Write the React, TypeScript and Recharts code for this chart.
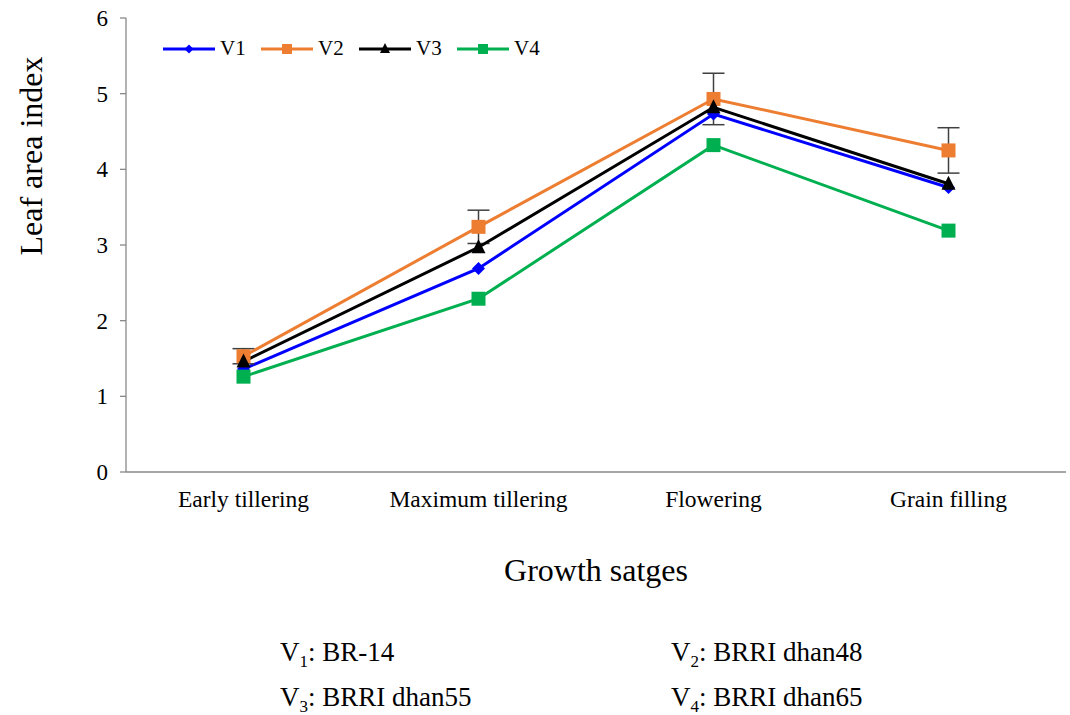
import React from "react";
import { LineChart, Line, XAxis, YAxis, ErrorBar } from "recharts";

const stages = ["Early tillering", "Maximum tillering", "Flowering", "Grain filling"];
const v1 = [1.36, 2.69, 4.73, 3.76];
const v2 = [1.53, 3.24, 4.93, 4.25];
const v3 = [1.46, 2.97, 4.82, 3.81];
const v4 = [1.26, 2.29, 4.32, 3.19];
const v2Err = [0.1, 0.22, 0.34, 0.3];
const yTicks = [0, 1, 2, 3, 4, 5, 6];
const stageEdges = [0, 1, 2, 3, 4];
const stageCentres = [0.5, 1.5, 2.5, 3.5];

const data = stages.map((s, i) => ({
  x: stageCentres[i],
  stage: s,
  v1: v1[i],
  v2: v2[i],
  v3: v3[i],
  v4: v4[i],
  v2Err: v2Err[i],
}));

const FONT = "Liberation Serif";
const AXIS = "#898989";

const series = [
  { key: "v1", name: "V1", color: "#0000FF", shape: "diamond" },
  { key: "v2", name: "V2", color: "#ED7D31", shape: "square" },
  { key: "v3", name: "V3", color: "#000000", shape: "triangle" },
  { key: "v4", name: "V4", color: "#00B050", shape: "square" },
];

// draws a marker centred on cx, cy
function marker(shape: string, cx: number, cy: number, size: number, color: string, key?: string) {
  const h = size / 2;
  if (shape === "diamond") {
    return (
      <polygon key={key} points={`${cx},${cy - h} ${cx + h},${cy} ${cx},${cy + h} ${cx - h},${cy}`} fill={color} />
    );
  }
  if (shape === "triangle") {
    return (
      <polygon key={key} points={`${cx},${cy - h - 1} ${cx + h},${cy + h - 1} ${cx - h},${cy + h - 1}`} fill={color} />
    );
  }
  return <rect key={key} x={cx - h} y={cy - h} width={size} height={size} fill={color} />;
}

const makeDot = (shape: string, color: string, size: number) => (props: any) => {
  const { cx, cy, index } = props;
  if (cx == null || cy == null) return <g key={`d${index}`} />;
  return marker(shape, cx, cy, size, color, `${shape}-${index}`);
};

function LegendBox() {
  return (
    <div style={{ position: "absolute", left: 162, top: 36, display: "flex", fontFamily: FONT, fontSize: 21 }}>
      {series.map((s) => (
        <div key={s.key} style={{ display: "flex", alignItems: "center", width: 98 }}>
          <svg width={54} height={24}>
            <line x1={1} y1={12} x2={53} y2={12} stroke={s.color} strokeWidth={3} />
            {marker(s.shape, 27, 12, s.shape === "diamond" ? 9 : 10, s.color)}
          </svg>
          <span style={{ marginLeft: 4 }}>{s.name}</span>
        </div>
      ))}
    </div>
  );
}

const note = { position: "absolute" as const, fontSize: 27, lineHeight: 1, fontFamily: FONT, whiteSpace: "nowrap" as const };
const sub = { fontSize: 17, position: "relative" as const, top: 6 };

export default function App() {
  return (
    <div
      style={{
        position: "absolute",
        left: 0,
        top: 0,
        width: 1070,
        height: 715,
        background: "#fff",
        fontFamily: FONT,
        color: "#000",
      }}
    >
      <LineChart
        width={1070}
        height={715}
        data={data}
        margin={{ top: 18, right: 4, left: 0, bottom: 183 }}
        style={{ fontFamily: FONT }}
      >
        <XAxis
          xAxisId="grid"
          dataKey="x"
          type="number"
          domain={[0, 4]}
          ticks={stageEdges}
          tick={false}
          tickSize={7}
          height={1}
          stroke={AXIS}
          strokeWidth={1.3}
        />
        <XAxis
          xAxisId="lab"
          dataKey="x"
          type="number"
          domain={[0, 4]}
          ticks={stageCentres}
          tickFormatter={(v: number) => stages[Math.floor(v)]}
          axisLine={false}
          tickLine={false}
          tickSize={0}
          tickMargin={17}
          height={59}
          tick={{ fill: "#000", fontSize: 23.5, fontFamily: FONT }}
          label={{
            value: "Growth satges",
            position: "bottom",
            offset: 26,
            style: { fill: "#000", fontSize: 32, fontFamily: FONT },
          }}
        />
        <YAxis
          type="number"
          domain={[0, 6]}
          ticks={yTicks}
          interval={0}
          width={126}
          tickSize={6}
          tickMargin={12}
          stroke={AXIS}
          strokeWidth={1.3}
          tick={{ fill: "#000", fontSize: 23, fontFamily: FONT }}
        />
        {series.map((s) => (
          <Line
            key={s.key}
            xAxisId="grid"
            dataKey={s.key}
            name={s.name}
            stroke={s.color}
            strokeWidth={3}
            isAnimationActive={false}
            dot={makeDot(s.shape, s.color, s.shape === "diamond" ? 13 : 14)}
            activeDot={false}
          >
            {s.key === "v2" && (
              <ErrorBar dataKey="v2Err" direction="y" width={11} stroke="#404040" strokeWidth={1.5} />
            )}
          </Line>
        ))}
      </LineChart>

      <LegendBox />

      <div
        style={{
          position: "absolute",
          left: 31,
          top: 156,
          transform: "translate(-50%, -50%) rotate(-90deg)",
          fontSize: 32,
          lineHeight: 1,
          fontFamily: FONT,
          whiteSpace: "nowrap",
        }}
      >
        Leaf area index
      </div>

      <div style={{ ...note, left: 280, top: 639 }}>
        V<span style={sub}>1</span>: BR-14
      </div>
      <div style={{ ...note, left: 671, top: 639 }}>
        V<span style={sub}>2</span>: BRRI dhan48
      </div>
      <div style={{ ...note, left: 280, top: 684 }}>
        V<span style={sub}>3</span>: BRRI dhan55
      </div>
      <div style={{ ...note, left: 671, top: 684 }}>
        V<span style={sub}>4</span>: BRRI dhan65
      </div>
    </div>
  );
}
